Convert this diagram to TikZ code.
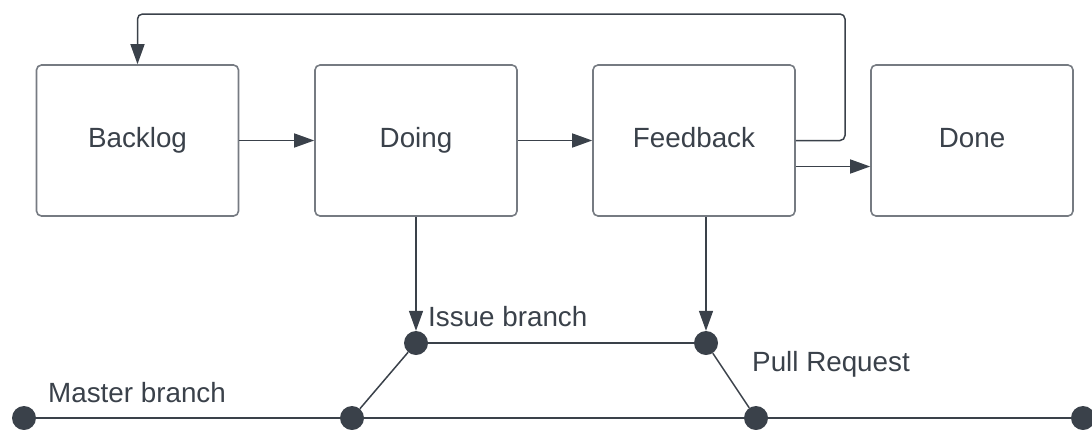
\documentclass[tikz,border=0pt]{standalone}
\usepackage{fontspec}
\setmainfont{Liberation Sans}
\usetikzlibrary{arrows.meta}
\definecolor{ink}{HTML}{3A414A}
\definecolor{edge}{HTML}{767B82}
\begin{document}
\begin{tikzpicture}[x=1pt,y=-1pt,
  box/.style={draw=edge,line width=1.6pt,rounded corners=5pt,minimum width=202pt,minimum height=151pt,inner sep=0pt,text=ink,font=\fontsize{27.8}{30}\selectfont,text height=20pt,text depth=6pt},
  dot/.style={circle,fill=ink,minimum size=24pt,inner sep=0pt},
  lbl/.style={text=ink,font=\fontsize{27.8}{30}\selectfont,inner sep=0pt,text height=20pt,text depth=6pt},
  conn/.style={draw=ink,line width=1.5pt},
  arr/.style={conn,-{Triangle[length=20pt,width=14pt]}}]
\useasboundingbox (0,0) rectangle (1092,429);
\clip (0,0) rectangle (1092,429);
\node[box] (backlog) at (137.5,140.5) {Backlog};
\node[box] (doing) at (416,140.5) {Doing};
\node[box] (feedback) at (694,140.5) {Feedback};
\node[box] (done) at (972,140.5) {Done};
\node[dot] (issue) at (416,343) {};
\node[dot] (pr) at (706,343) {};
\node[dot] (m0) at (24,418) {};
\node[dot] (m1) at (352,418) {};
\node[dot] (m2) at (756,418) {};
\node[dot] (m3) at (1083,418) {};
\node[lbl,anchor=west] (lissue) at (428,319) {Issue branch};
\node[lbl,anchor=west] (lpr) at (752,364) {Pull Request};
\node[lbl,anchor=west] (lmaster) at (48,395) {Master branch};
\coordinate (loopR) at (845,14);
\draw[arr] (backlog.east) -- (doing.west);
\draw[arr] (doing.east) -- (feedback.west);
\draw[arr] ([yshift=-26pt]feedback.east) -- ([yshift=-26pt]feedback.east -| done.west);
\draw[arr,rounded corners=5pt] (feedback.east) -| (loopR) -| (backlog.north);
\draw[arr] (doing.south) -- (issue.north);
\draw[arr] (feedback.south -| pr) -- (pr.north);
\draw[conn] (issue) -- (pr);
\draw[conn] (m0) -- (m3);
\draw[conn] (m1) -- (issue);
\draw[conn] (pr) -- (m2);
\end{tikzpicture}
\end{document}
